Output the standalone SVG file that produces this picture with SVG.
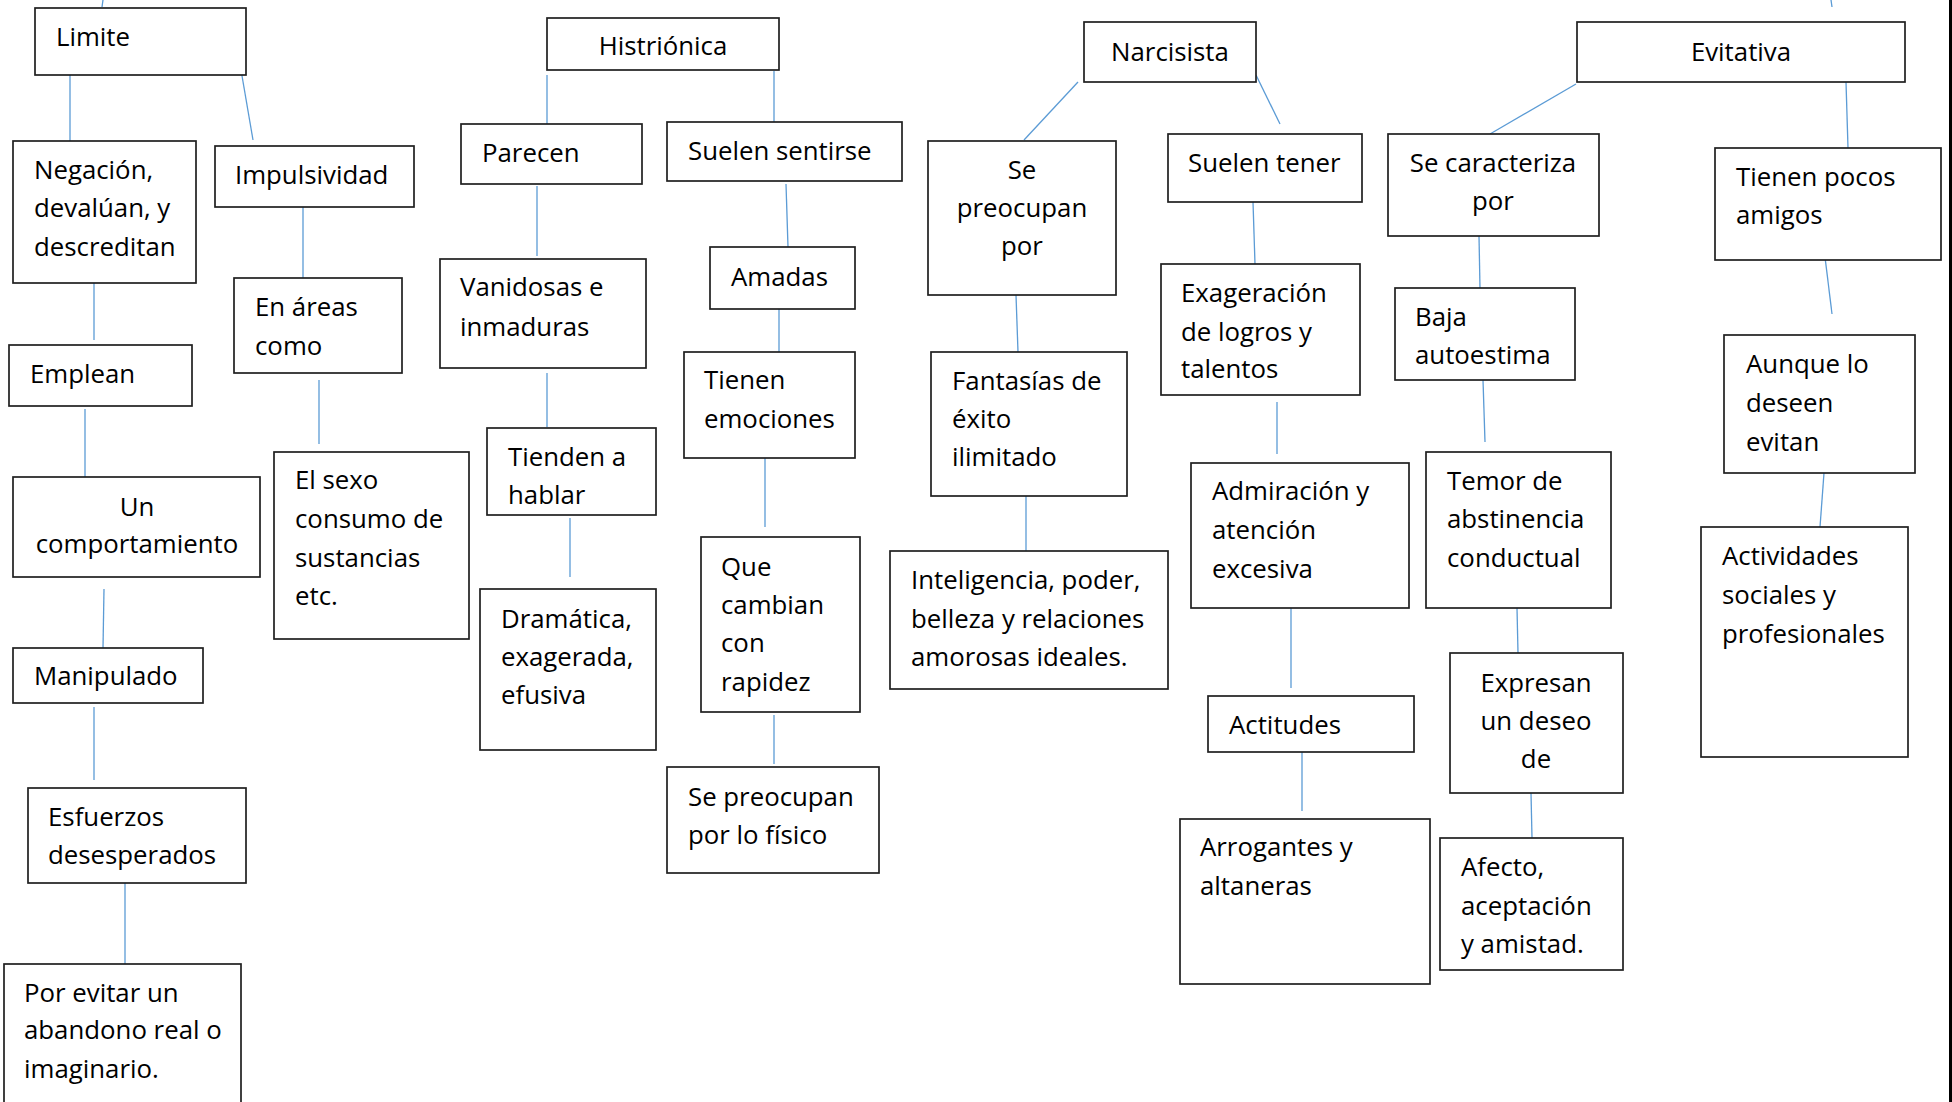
<svg xmlns="http://www.w3.org/2000/svg" width="1952" height="1102" viewBox="0 0 1952 1102">
<style>
.b{fill:#fff;stroke:#1f1f1f;stroke-width:1.7}
.t{font-family:"Open Sans","Noto Sans",sans-serif;font-size:25.8px;fill:#000}
.c{text-anchor:middle}
.k line{stroke:#5B9BD5;stroke-width:1.3}
</style>
<rect width="1952" height="1102" fill="#fff"/>
<g id="connectors" class="k">
<line x1="103" y1="0" x2="102" y2="7"/>
<line x1="70" y1="75" x2="70" y2="141"/>
<line x1="241" y1="70" x2="253" y2="140"/>
<line x1="94" y1="283" x2="94" y2="340"/>
<line x1="85" y1="409" x2="85" y2="477"/>
<line x1="104" y1="589" x2="103" y2="648"/>
<line x1="94" y1="707" x2="94" y2="780"/>
<line x1="125" y1="883" x2="125" y2="964"/>
<line x1="303" y1="207" x2="303" y2="278"/>
<line x1="319" y1="380" x2="319" y2="444"/>
<line x1="547" y1="75" x2="547" y2="124"/>
<line x1="774" y1="71" x2="774" y2="122"/>
<line x1="537" y1="186" x2="537" y2="256"/>
<line x1="547" y1="373" x2="547" y2="427"/>
<line x1="570" y1="518" x2="570" y2="577"/>
<line x1="786" y1="184" x2="788" y2="247"/>
<line x1="779" y1="309" x2="779" y2="352"/>
<line x1="765" y1="457" x2="765" y2="527"/>
<line x1="774" y1="715" x2="774" y2="764"/>
<line x1="1078" y1="82" x2="1024" y2="140"/>
<line x1="1256" y1="75" x2="1280" y2="124"/>
<line x1="1016" y1="295" x2="1018" y2="352"/>
<line x1="1026" y1="496" x2="1026" y2="551"/>
<line x1="1253" y1="202" x2="1255" y2="264"/>
<line x1="1277" y1="402" x2="1277" y2="454"/>
<line x1="1291" y1="608" x2="1291" y2="688"/>
<line x1="1302" y1="752" x2="1302" y2="811"/>
<line x1="1831" y1="0" x2="1832" y2="7"/>
<line x1="1576" y1="84" x2="1490" y2="134"/>
<line x1="1846" y1="82" x2="1848" y2="148"/>
<line x1="1479" y1="236" x2="1480" y2="288"/>
<line x1="1483" y1="380" x2="1485" y2="442"/>
<line x1="1517" y1="608" x2="1518" y2="653"/>
<line x1="1531" y1="793" x2="1532" y2="838"/>
<line x1="1825" y1="257" x2="1832" y2="314"/>
<line x1="1824" y1="473" x2="1820" y2="527"/>
</g>
<line x1="1950.5" y1="0" x2="1950.5" y2="1102" stroke="#000" stroke-width="3"/>
<g id="limite"><rect class="b" x="35" y="8" width="211" height="67"/><text class="t" x="56" y="46">Limite</text></g>
<g id="negacion"><rect class="b" x="13" y="141" width="183" height="142"/><text class="t"><tspan x="34" y="179">Negación,</tspan><tspan x="34" y="217">devalúan, y</tspan><tspan x="34" y="256">descreditan</tspan></text></g>
<g id="emplean"><rect class="b" x="9" y="345" width="183" height="61"/><text class="t" x="30" y="383">Emplean</text></g>
<g id="comportamiento"><rect class="b" x="13" y="477" width="247" height="100"/><text class="t c"><tspan x="137" y="516">Un</tspan><tspan x="137" y="553">comportamiento</tspan></text></g>
<g id="manipulado"><rect class="b" x="13" y="648" width="190" height="55"/><text class="t" x="34" y="685">Manipulado</text></g>
<g id="esfuerzos"><rect class="b" x="28" y="788" width="218" height="95"/><text class="t"><tspan x="48" y="826">Esfuerzos</tspan><tspan x="48" y="864">desesperados</tspan></text></g>
<g id="por-evitar"><rect class="b" x="4" y="964" width="237" height="160"/><text class="t"><tspan x="24" y="1002">Por evitar un</tspan><tspan x="24" y="1039">abandono real o</tspan><tspan x="24" y="1078">imaginario.</tspan></text></g>
<g id="impulsividad"><rect class="b" x="215" y="146" width="199" height="61"/><text class="t" x="235" y="184">Impulsividad</text></g>
<g id="en-areas"><rect class="b" x="234" y="278" width="168" height="95"/><text class="t"><tspan x="255" y="316">En áreas</tspan><tspan x="255" y="355">como</tspan></text></g>
<g id="el-sexo"><rect class="b" x="274" y="452" width="195" height="187"/><text class="t"><tspan x="295" y="489">El sexo</tspan><tspan x="295" y="528">consumo de</tspan><tspan x="295" y="567">sustancias</tspan><tspan x="295" y="605">etc.</tspan></text></g>
<g id="histrionica"><rect class="b" x="547" y="18" width="232" height="52"/><text class="t c" x="663" y="55">Histriónica</text></g>
<g id="parecen"><rect class="b" x="461" y="124" width="181" height="60"/><text class="t" x="482" y="162">Parecen</text></g>
<g id="vanidosas"><rect class="b" x="440" y="259" width="206" height="109"/><text class="t"><tspan x="460" y="296">Vanidosas e</tspan><tspan x="460" y="336">inmaduras</tspan></text></g>
<g id="tienden"><rect class="b" x="487" y="428" width="169" height="87"/><text class="t"><tspan x="508" y="466">Tienden a</tspan><tspan x="508" y="504">hablar</tspan></text></g>
<g id="dramatica"><rect class="b" x="480" y="589" width="176" height="161"/><text class="t"><tspan x="501" y="628">Dramática,</tspan><tspan x="501" y="666">exagerada,</tspan><tspan x="501" y="704">efusiva</tspan></text></g>
<g id="suelen-sentirse"><rect class="b" x="667" y="122" width="235" height="59"/><text class="t" x="688" y="160">Suelen sentirse</text></g>
<g id="amadas"><rect class="b" x="710" y="247" width="145" height="62"/><text class="t" x="731" y="286">Amadas</text></g>
<g id="tienen-emociones"><rect class="b" x="684" y="352" width="171" height="106"/><text class="t"><tspan x="704" y="389">Tienen</tspan><tspan x="704" y="428">emociones</tspan></text></g>
<g id="que-cambian"><rect class="b" x="701" y="537" width="159" height="175"/><text class="t"><tspan x="721" y="576">Que</tspan><tspan x="721" y="614">cambian</tspan><tspan x="721" y="652">con</tspan><tspan x="721" y="691">rapidez</tspan></text></g>
<g id="preocupan-fisico"><rect class="b" x="667" y="767" width="212" height="106"/><text class="t"><tspan x="688" y="806">Se preocupan</tspan><tspan x="688" y="844">por lo físico</tspan></text></g>
<g id="narcisista"><rect class="b" x="1084" y="22" width="172" height="60"/><text class="t c" x="1170" y="61">Narcisista</text></g>
<g id="se-preocupan-por"><rect class="b" x="928" y="141" width="188" height="154"/><text class="t c"><tspan x="1022" y="179">Se</tspan><tspan x="1022" y="217">preocupan</tspan><tspan x="1022" y="255">por</tspan></text></g>
<g id="fantasias"><rect class="b" x="931" y="352" width="196" height="144"/><text class="t"><tspan x="952" y="390">Fantasías de</tspan><tspan x="952" y="428">éxito</tspan><tspan x="952" y="466">ilimitado</tspan></text></g>
<g id="inteligencia"><rect class="b" x="890" y="551" width="278" height="138"/><text class="t"><tspan x="911" y="589">Inteligencia, poder,</tspan><tspan x="911" y="628">belleza y relaciones</tspan><tspan x="911" y="666">amorosas ideales.</tspan></text></g>
<g id="suelen-tener"><rect class="b" x="1168" y="134" width="194" height="68"/><text class="t" x="1188" y="172">Suelen tener</text></g>
<g id="exageracion"><rect class="b" x="1161" y="264" width="199" height="131"/><text class="t"><tspan x="1181" y="302">Exageración</tspan><tspan x="1181" y="341">de logros y</tspan><tspan x="1181" y="378">talentos</tspan></text></g>
<g id="admiracion"><rect class="b" x="1191" y="463" width="218" height="145"/><text class="t"><tspan x="1212" y="500">Admiración y</tspan><tspan x="1212" y="539">atención</tspan><tspan x="1212" y="578">excesiva</tspan></text></g>
<g id="actitudes"><rect class="b" x="1208" y="696" width="206" height="56"/><text class="t" x="1229" y="734">Actitudes</text></g>
<g id="arrogantes"><rect class="b" x="1180" y="819" width="250" height="165"/><text class="t"><tspan x="1200" y="856">Arrogantes y</tspan><tspan x="1200" y="895">altaneras</tspan></text></g>
<g id="evitativa"><rect class="b" x="1577" y="22" width="328" height="60"/><text class="t c" x="1741" y="61">Evitativa</text></g>
<g id="se-caracteriza"><rect class="b" x="1388" y="134" width="211" height="102"/><text class="t c"><tspan x="1493" y="172">Se caracteriza</tspan><tspan x="1493" y="210">por</tspan></text></g>
<g id="baja-autoestima"><rect class="b" x="1395" y="288" width="180" height="92"/><text class="t"><tspan x="1415" y="326">Baja</tspan><tspan x="1415" y="364">autoestima</tspan></text></g>
<g id="temor"><rect class="b" x="1426" y="452" width="185" height="156"/><text class="t"><tspan x="1447" y="490">Temor de</tspan><tspan x="1447" y="528">abstinencia</tspan><tspan x="1447" y="567">conductual</tspan></text></g>
<g id="expresan"><rect class="b" x="1450" y="653" width="173" height="140"/><text class="t c"><tspan x="1536" y="692">Expresan</tspan><tspan x="1536" y="730">un deseo</tspan><tspan x="1536" y="768">de</tspan></text></g>
<g id="afecto"><rect class="b" x="1440" y="838" width="183" height="132"/><text class="t"><tspan x="1461" y="876">Afecto,</tspan><tspan x="1461" y="915">aceptación</tspan><tspan x="1461" y="953">y amistad.</tspan></text></g>
<g id="tienen-pocos"><rect class="b" x="1715" y="148" width="226" height="112"/><text class="t"><tspan x="1736" y="186">Tienen pocos</tspan><tspan x="1736" y="224">amigos</tspan></text></g>
<g id="aunque"><rect class="b" x="1724" y="335" width="191" height="138"/><text class="t"><tspan x="1746" y="373">Aunque lo</tspan><tspan x="1746" y="412">deseen</tspan><tspan x="1746" y="451">evitan</tspan></text></g>
<g id="actividades"><rect class="b" x="1701" y="527" width="207" height="230"/><text class="t"><tspan x="1722" y="565">Actividades</tspan><tspan x="1722" y="604">sociales y</tspan><tspan x="1722" y="643">profesionales</tspan></text></g>
</svg>
